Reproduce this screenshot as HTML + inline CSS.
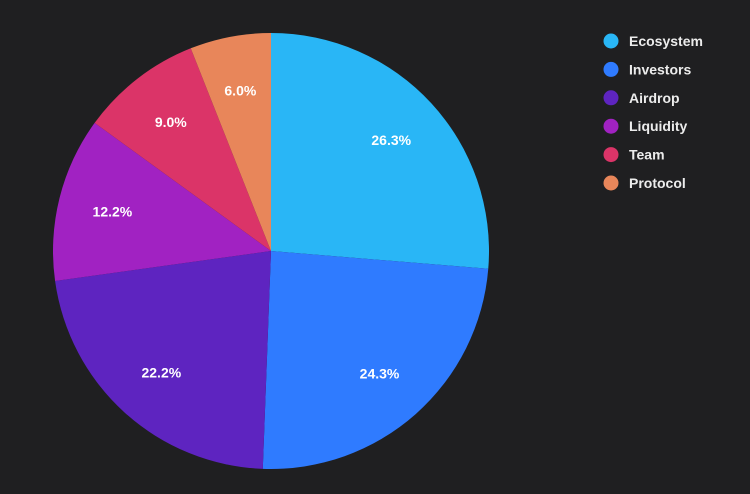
<!DOCTYPE html>
<html><head><meta charset="utf-8"><style>
html,body{margin:0;padding:0;background:#1f1f21;}
body{width:750px;height:489px;overflow:hidden;font-family:"Liberation Sans",sans-serif;}
</style></head><body>
<svg id="chart" width="750" height="489" xmlns="http://www.w3.org/2000/svg">
<rect width="750" height="489" fill="#1f1f21"/>
<g id="slices"></g><g id="labels"></g><g id="legend"></g>
</svg>
<script>
const categories = ["Ecosystem","Investors","Airdrop","Liquidity","Team","Protocol"];
const values = [26.3,24.3,22.2,12.2,9.0,6.0];
const colors = ["#29b6f6","#2f7bff","#5e24c0","#a122c2","#db3468","#e8865a"];
const NS="http://www.w3.org/2000/svg";
const cx=271, cy=251, R=218;
const total=values.reduce((a,b)=>a+b,0);
const sg=document.getElementById('slices'), lg=document.getElementById('labels'), leg=document.getElementById('legend');
function pt(a,r){return [cx+r*Math.sin(a), cy-r*Math.cos(a)];}
let a0=0;
values.forEach((v,i)=>{
  const a1=a0+v/total*2*Math.PI;
  const p0=pt(a0,R), p1=pt(a1,R);
  const large=(a1-a0)>Math.PI?1:0;
  const p=document.createElementNS(NS,'path');
  p.setAttribute('d',`M${cx},${cy} L${p0[0]},${p0[1]} A${R},${R} 0 ${large} 1 ${p1[0]},${p1[1]} Z`);
  p.setAttribute('fill',colors[i]);
  
  
  sg.appendChild(p);
  const m=(a0+a1)/2, lp=pt(m,R*0.75);
  const t=document.createElementNS(NS,'text');
  t.setAttribute('x',lp[0]);t.setAttribute('y',lp[1]+5);
  t.setAttribute('text-anchor','middle');t.setAttribute('fill','#ffffff');
  t.setAttribute('font-size','14');t.setAttribute('font-weight','bold');
  t.textContent=v.toFixed(1)+'%';
  
  
  lg.appendChild(t);
  a0=a1;
});
categories.forEach((c,i)=>{
  const y=41+i*28.4;
  const g=document.createElementNS(NS,'g');
  
  
  const d=document.createElementNS(NS,'circle');
  d.setAttribute('cx',611);d.setAttribute('cy',y);d.setAttribute('r',7.5);d.setAttribute('fill',colors[i]);
  
  
  const t=document.createElementNS(NS,'text');
  t.setAttribute('x',629);t.setAttribute('y',y+5);t.setAttribute('fill','#ececec');
  t.setAttribute('font-size','14');t.setAttribute('font-weight','bold');
  t.textContent=c;
  
  
  g.appendChild(d);g.appendChild(t);leg.appendChild(g);
});
</script>
</body></html>
